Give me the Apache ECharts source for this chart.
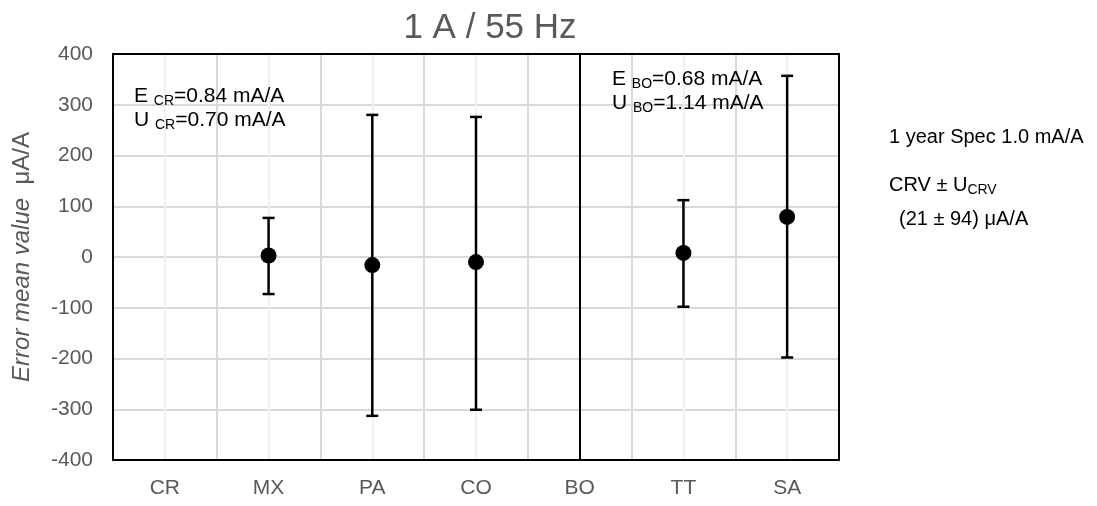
<!DOCTYPE html>
<html><head><meta charset="utf-8">
<script src="https://cdn.jsdelivr.net/npm/echarts@6/dist/echarts.min.js"></script>
<style>html,body{margin:0;padding:0;background:#fff}#c{width:1097px;height:506px}</style>
</head><body><div id="c"></div>
<script>
const categories = ['CR','MX','PA','CO','BO','TT','SA'];
const meanValues = [null, 3, -16, -10, null, 8, 79];
const lowValues  = [null, -73, -313, -301, null, -98, -198];
const highValues = [null, 77, 280, 276, null, 112, 357];
const yTicks = {min: -400, max: 400, interval: 100};
const halfCats = ['0','1','2','3','4','5','6','7','8','9','10','11','12','13'];

const F = '"Liberation Sans", Arial, sans-serif';
const scatterData = [];
const errData = [];
categories.forEach((c, i) => {
  if (meanValues[i] !== null) scatterData.push([c, meanValues[i]]);
  if (lowValues[i] !== null) errData.push([i, lowValues[i], highValues[i]]);
});

const subRich = (size, sub, lh) => ({
  n: {fontFamily: F, fontSize: size, color: '#000', lineHeight: lh},
  s: {fontFamily: F, fontSize: sub, color: '#000', lineHeight: 6, verticalAlign: 'bottom'}
});

const chart = echarts.init(document.getElementById('c'), null, {renderer: 'canvas'});
chart.setOption({
  animation: false,
  title: {
    text: '1 A / 55 Hz', left: 485, top: 6, textAlign: 'center',
    textStyle: {fontFamily: F, fontSize: 35, fontWeight: 'normal', color: '#595959'}
  },
  grid: {left: 113, right: 258, top: 54, bottom: 46, show: false},
  xAxis: [{
    type: 'category', data: categories, boundaryGap: true,
    axisLine: {show: true, onZero: false, lineStyle: {color: '#000', width: 2}},
    axisTick: {show: false},
    axisLabel: {fontFamily: F, fontSize: 21, color: '#595959', margin: 18},
    splitLine: {show: true, lineStyle: {color: '#d9d9d9', width: 2}},
    z: 5
  }, {
    type: 'category', data: halfCats, boundaryGap: true, position: 'top',
    axisLine: {show: true, onZero: false, lineStyle: {color: '#000', width: 2}},
    axisTick: {show: false}, axisLabel: {show: false},
    splitLine: {show: true, interval: (i) => i % 2 === 1, lineStyle: {color: '#f0f0f0', width: 2}},
    z: 5
  }],
  yAxis: [{
    type: 'value', min: yTicks.min, max: yTicks.max, interval: yTicks.interval,
    axisLine: {show: true, onZero: false, lineStyle: {color: '#000', width: 2}},
    axisTick: {show: false},
    axisLabel: {fontFamily: F, fontSize: 21, color: '#595959', margin: 20},
    splitLine: {show: true, lineStyle: {color: '#d9d9d9', width: 2}},
    name: '{i|Error mean value}{n|  μA/A}', nameLocation: 'middle', nameGap: 79,
    nameTextStyle: {
      rich: {
        i: {fontFamily: F, fontSize: 24, fontStyle: 'italic', color: '#595959'},
        n: {fontFamily: F, fontSize: 24, color: '#595959'}
      }
    },
    z: 5
  }, {
    type: 'value', min: yTicks.min, max: yTicks.max, interval: yTicks.interval, position: 'right',
    axisLine: {show: true, onZero: false, lineStyle: {color: '#000', width: 2}},
    axisTick: {show: false}, axisLabel: {show: false}, splitLine: {show: false},
    z: 5
  }],
  series: [{
    type: 'custom', xAxisIndex: 0, yAxisIndex: 0,
    data: errData,
    renderItem: function (params, api) {
      const x = api.value(0);
      const lo = api.coord([x, api.value(1)]);
      const hi = api.coord([x, api.value(2)]);
      const w = 6;
      const st = {stroke: '#000', lineWidth: 2.5};
      return {type: 'group', children: [
        {type: 'line', shape: {x1: lo[0], y1: lo[1], x2: hi[0], y2: hi[1]}, style: st},
        {type: 'line', shape: {x1: lo[0] - w, y1: lo[1], x2: lo[0] + w, y2: lo[1]}, style: st},
        {type: 'line', shape: {x1: hi[0] - w, y1: hi[1], x2: hi[0] + w, y2: hi[1]}, style: st}
      ]};
    },
    z: 10
  }, {
    type: 'scatter', xAxisIndex: 0, yAxisIndex: 0, data: scatterData, symbol: 'circle', symbolSize: 16,
    itemStyle: {color: '#000', opacity: 1}, z: 11,
    markLine: {
      silent: true, symbol: 'none', label: {show: false},
      lineStyle: {color: '#000', width: 2, type: 'solid'},
      data: [{xAxis: 'BO'}]
    }
  }],
  graphic: [
    {type: 'text', left: 134, top: 86, z: 20, style: {
      text: '{n|E }{s|CR}{n|=0.84 mA/A}\n{n|U }{s|CR}{n|=0.70 mA/A}',
      rich: subRich(21, 14, 24)
    }},
    {type: 'text', left: 612, top: 69, z: 20, style: {
      text: '{n|E }{s|BO}{n|=0.68 mA/A}\n{n|U }{s|BO}{n|=1.14 mA/A}',
      rich: subRich(21, 14, 24)
    }},
    {type: 'text', left: 889, top: 127, style: {
      text: '1 year Spec 1.0 mA/A', fontFamily: F, fontSize: 20, fill: '#000'
    }},
    {type: 'text', left: 889, top: 175, style: {
      text: '{n|CRV ± U}{s|CRV}',
      rich: subRich(20, 14, 24)
    }},
    {type: 'text', left: 899, top: 209, style: {
      text: '(21 ± 94) μA/A', fontFamily: F, fontSize: 20, fill: '#000'
    }}
  ]
});
</script></body></html>
